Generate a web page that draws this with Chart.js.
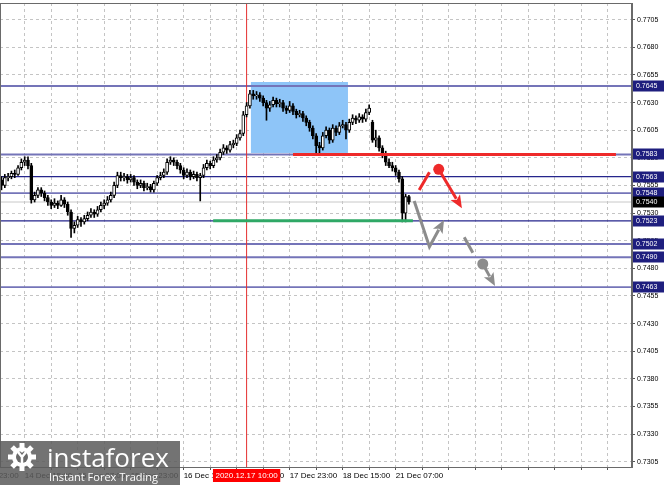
<!DOCTYPE html>
<html><head><meta charset="utf-8">
<script src="https://cdn.jsdelivr.net/npm/chart.js@4/dist/chart.umd.min.js"></script>
<style>
html,body{margin:0;padding:0;background:#fff;}
#wrap{position:relative;width:665px;height:485px;overflow:hidden;}
canvas{display:block;}
#logo{position:absolute;left:0;top:441px;width:180px;height:44px;background:rgba(92,92,92,0.86);}
#brand{position:absolute;left:47px;top:1px;font:26px 'Open Sans',sans-serif;line-height:30px;color:#fff;white-space:nowrap;}
#tag{position:absolute;left:49px;top:29px;font:11px 'Open Sans',sans-serif;line-height:13px;color:#fff;white-space:nowrap;}
#gear{position:absolute;left:5px;top:2px;}
</style></head><body>
<div id="wrap"><canvas id="c" width="665" height="485"></canvas>
<div id="logo">
<svg id="gear" width="36" height="30" viewBox="0 0 36 30">
<g fill="#fff" transform="translate(17,14)">
<circle r="10"/>
<rect x="-2.5" y="-14" width="5" height="6"/><rect x="-2.5" y="8" width="5" height="6"/>
<rect x="-14" y="-2.5" width="6" height="5"/><rect x="8" y="-2.5" width="6" height="5"/>
<rect x="-2.5" y="-14" width="5" height="6" transform="rotate(45)"/><rect x="-2.5" y="-14" width="5" height="6" transform="rotate(-45)"/>
<rect x="-2.5" y="-14" width="5" height="6" transform="rotate(135)"/><rect x="-2.5" y="-14" width="5" height="6" transform="rotate(-135)"/>
</g>
<circle cx="17" cy="14" r="6" fill="#6a6a6a"/>
<path d="M13 9 L17 14 L21 9 M17 14 L17 22" stroke="#fff" stroke-width="2.5" fill="none"/>
<circle cx="17" cy="8" r="1.6" fill="#fff"/>
</svg>
<div id="brand">instaforex</div>
<div id="tag">Instant Forex Trading</div>
</div></div>
<script>
// ---- candle data (H1 bars, index 0 = first visible bar) ----
const opens = [
0.7560,0.7555,0.7562,0.7563,0.7566,0.7565,0.7571,0.7576,0.7578,0.7573,
0.7542,0.7546,0.7551,0.7548,0.7544,0.7540,0.7537,0.7539,0.7537,0.7542,
0.7538,0.7531,0.7516,0.7519,0.7524,0.7522,0.7525,0.7528,0.7531,0.7529,
0.7533,0.7537,0.7539,0.7542,0.7546,0.7555,0.7564,0.7562,0.7563,0.7560,
0.7562,0.7558,0.7555,0.7557,0.7553,0.7554,0.7551,0.7557,0.7562,0.7564,
0.7567,0.7576,0.7578,0.7576,0.7573,0.7569,0.7564,0.7567,0.7563,0.7565,
0.7562,0.7564,0.7571,0.7575,0.7573,0.7578,0.7580,0.7585,0.7589,0.7587,
0.7592,0.7593,0.7598,0.7602,0.7619,0.7627,0.7638,0.7636,0.7637,0.7634,
0.7630,0.7625,0.7628,0.7632,0.7629,0.7630,0.7625,0.7623,0.7627,0.7622,
0.7619,0.7620,0.7616,0.7612,0.7607,0.7600,0.7591,0.7589,0.7600,0.7605,
0.7596,0.7607,0.7603,0.7609,0.7610,0.7605,0.7612,0.7616,0.7614,0.7617,
0.7615,0.7621,0.7612,0.7596,0.7598,0.7589,0.7583,0.7576,0.7573,0.7571,
0.7567,0.7561,0.7530,0.7545];
const highs = [
0.7563,0.7565,0.7566,0.7568,0.7569,0.7573,0.7579,0.7581,0.7581,0.7575,
0.7549,0.7553,0.7553,0.7550,0.7546,0.7542,0.7543,0.7541,0.7546,0.7544,
0.7540,0.7533,0.7522,0.7527,0.7526,0.7528,0.7531,0.7534,0.7533,0.7536,
0.7540,0.7542,0.7545,0.7549,0.7558,0.7567,0.7567,0.7566,0.7565,0.7565,
0.7564,0.7560,0.7560,0.7559,0.7557,0.7556,0.7559,0.7564,0.7567,0.7570,
0.7579,0.7581,0.7580,0.7578,0.7575,0.7571,0.7570,0.7569,0.7568,0.7567,
0.7566,0.7574,0.7578,0.7577,0.7581,0.7583,0.7588,0.7592,0.7591,0.7595,
0.7596,0.7601,0.7605,0.7622,0.7630,0.7641,0.7641,0.7640,0.7639,0.7636,
0.7632,0.7631,0.7635,0.7634,0.7633,0.7632,0.7627,0.7631,0.7629,0.7624,
0.7623,0.7622,0.7618,0.7614,0.7609,0.7602,0.7594,0.7603,0.7608,0.7607,
0.7610,0.7609,0.7612,0.7614,0.7612,0.7615,0.7619,0.7618,0.7620,0.7619,
0.7624,0.7628,0.7614,0.7605,0.7600,0.7591,0.7586,0.7579,0.7576,0.7573,
0.7569,0.7563,0.7547,0.7546];
const lows = [
0.7551,0.7553,0.7559,0.7561,0.7562,0.7564,0.7569,0.7573,0.7570,0.7539,
0.7540,0.7544,0.7545,0.7541,0.7537,0.7534,0.7535,0.7534,0.7536,0.7535,
0.7528,0.7508,0.7512,0.7517,0.7518,0.7520,0.7523,0.7526,0.7526,0.7527,
0.7531,0.7534,0.7537,0.7540,0.7544,0.7553,0.7559,0.7559,0.7557,0.7558,
0.7555,0.7552,0.7553,0.7550,0.7551,0.7549,0.7549,0.7555,0.7560,0.7562,
0.7565,0.7574,0.7573,0.7570,0.7566,0.7561,0.7562,0.7560,0.7561,0.7559,
0.7541,0.7562,0.7569,0.7570,0.7571,0.7576,0.7578,0.7583,0.7584,0.7585,
0.7589,0.7591,0.7596,0.7600,0.7617,0.7625,0.7633,0.7633,0.7631,0.7627,
0.7614,0.7622,0.7626,0.7626,0.7626,0.7622,0.7620,0.7621,0.7619,0.7616,
0.7617,0.7613,0.7609,0.7604,0.7597,0.7584,0.7583,0.7587,0.7598,0.7593,
0.7594,0.7600,0.7601,0.7607,0.7597,0.7603,0.7610,0.7611,0.7612,0.7612,
0.7613,0.7619,0.7594,0.7590,0.7586,0.7580,0.7573,0.7571,0.7568,0.7564,
0.7558,0.7522,0.7522,0.7538];
const closes = [
0.7555,0.7562,0.7563,0.7566,0.7565,0.7571,0.7576,0.7578,0.7573,0.7542,
0.7546,0.7551,0.7548,0.7544,0.7540,0.7537,0.7539,0.7537,0.7542,0.7538,
0.7531,0.7516,0.7519,0.7524,0.7522,0.7525,0.7528,0.7531,0.7529,0.7533,
0.7537,0.7539,0.7542,0.7546,0.7555,0.7564,0.7562,0.7563,0.7560,0.7562,
0.7558,0.7555,0.7557,0.7553,0.7554,0.7551,0.7557,0.7562,0.7564,0.7567,
0.7576,0.7578,0.7576,0.7573,0.7569,0.7564,0.7567,0.7563,0.7565,0.7562,
0.7564,0.7571,0.7575,0.7573,0.7578,0.7580,0.7585,0.7589,0.7587,0.7592,
0.7593,0.7598,0.7602,0.7619,0.7627,0.7638,0.7636,0.7637,0.7634,0.7630,
0.7625,0.7628,0.7632,0.7629,0.7630,0.7625,0.7623,0.7627,0.7622,0.7619,
0.7620,0.7616,0.7612,0.7607,0.7600,0.7591,0.7589,0.7600,0.7605,0.7596,
0.7607,0.7603,0.7609,0.7610,0.7605,0.7612,0.7616,0.7614,0.7617,0.7615,
0.7621,0.7625,0.7596,0.7598,0.7589,0.7583,0.7576,0.7573,0.7571,0.7567,
0.7561,0.7530,0.7545,0.7540];

// ---- levels & axes ----
const levelValues = [0.7645, 0.7583, 0.7563, 0.7548, 0.7523, 0.7502, 0.7490, 0.7463];
const levelDark   = [false, false, true, false, true, false, false, false];
const currentPrice = 0.7540;
const yTicks = [0.7305,0.7330,0.7355,0.7380,0.7405,0.7430,0.7455,0.7480,0.7505,0.7530,0.7555,0.7580,0.7605,0.7630,0.7655,0.7680,0.7705];
const xGridIdx = [-9, -1, 7, 15, 23, 31, 39, 47, 55, 63, 71, 79, 87, 95, 103, 111, 119, 127, 135, 143, 151, 159, 167, 175, 183];
const xTickIdx = [-9, 7, 23, 39, 55, 71, 87, 103, 119];
const xTickLabels = ["11 Dec 23:00","14 Dec 15:00","15 Dec 07:00","15 Dec 23:00","16 Dec 15:00","17 Dec 07:00","17 Dec 23:00","18 Dec 15:00","21 Dec 07:00"];
const markerBar = 74;
const markerLabel = "2020.12.17 10:00";
const xRange = [-0.45, 190.35];
const yRange = [0.73002, 0.77201];
// annotations in data coordinates [barIndex, price]
const zoneX = [75.3, 104.6];
const zoneY = [0.76486, 0.75844];
const resistX = [88.0, 185.5];
const resistY = 0.7583;
const supportX = [63.9, 124.2];
const supportY = 0.7523;
const redSlash = [[126.1, 0.75509], [129.2, 0.75669]];
const redArrow = [[132.0, 0.75696], [139.0, 0.75343]];
const grayArrow1 = [[124.6, 0.75409], [129.2, 0.74996], [133.6, 0.75237]];
const grayDash = [[139.7, 0.75081], [142.3, 0.74941]];
const grayArrow2 = [[145.3, 0.74839], [149.0, 0.74640]];

const wickData = opens.map((o, i) => ({x: i, y: [lows[i], highs[i]]}));
const bodyData = opens.map((o, i) => ({x: i, y: [o, closes[i]]}));
const bodyFill = opens.map((o, i) => closes[i] >= o ? '#ffffff' : '#000000');

const lineDs = (pts, color, width, order) => ({type: 'line', data: pts, borderColor: color, borderWidth: width, pointRadius: 0, fill: false, order: order, tension: 0});

const datasets = [
  {type: 'bar', data: wickData, backgroundColor: '#000', barThickness: 1, grouped: false, order: 3, borderWidth: 0},
  {type: 'bar', data: bodyData, backgroundColor: bodyFill, borderColor: '#000', borderWidth: 1, borderSkipped: false, barThickness: 3, grouped: false, order: 2, minBarLength: 1},
  lineDs([{x: xRange[0], y: currentPrice}, {x: xRange[1], y: currentPrice}], '#c8c8c8', 1, 9),
];
levelValues.forEach((v, k) => {
  datasets.push(lineDs([{x: xRange[0], y: v}, {x: xRange[1], y: v}], levelDark[k] ? '#25258c' : '#7474b8', levelDark[k] ? 1.3 : 1.8, 8));
});
datasets.push(lineDs([{x: markerBar, y: yRange[0]}, {x: markerBar, y: yRange[1]}], '#e53030', 1, 7));
datasets.push(lineDs([{x: resistX[0], y: resistY}, {x: resistX[1], y: resistY}], '#ee2a2a', 3, 1));
datasets.push(lineDs([{x: supportX[0], y: supportY}, {x: supportX[1], y: supportY}], '#2fa866', 3, 1));

function poly(ctx, pts, color, w, dash) {
  ctx.save(); ctx.strokeStyle = color; ctx.lineWidth = w; ctx.lineCap = 'butt'; ctx.lineJoin = 'miter';
  ctx.setLineDash(dash || []);
  ctx.beginPath(); pts.forEach((p, k) => k ? ctx.lineTo(p[0], p[1]) : ctx.moveTo(p[0], p[1])); ctx.stroke(); ctx.restore();
}
function arrowLine(ctx, pts, color, w) {
  const n = pts.length; const a = pts[n - 2], b = pts[n - 1];
  const dx = b[0] - a[0], dy = b[1] - a[1], L = Math.hypot(dx, dy), ux = dx / L, uy = dy / L;
  const len = 13, hw = 5.5;
  const base = [b[0] - ux * len, b[1] - uy * len];
  const p = pts.slice(0, n - 1).concat([[b[0] - ux * (len - 2), b[1] - uy * (len - 2)]]);
  poly(ctx, p, color, w);
  ctx.save(); ctx.fillStyle = color; ctx.beginPath();
  ctx.moveTo(b[0], b[1]);
  ctx.lineTo(base[0] - uy * hw, base[1] + ux * hw);
  ctx.lineTo(base[0] + ux * 3, base[1] + uy * 3);
  ctx.lineTo(base[0] + uy * hw, base[1] - ux * hw);
  ctx.closePath(); ctx.fill(); ctx.restore();
}
function dot(ctx, p, r, color) { ctx.save(); ctx.fillStyle = color; ctx.beginPath(); ctx.arc(p[0], p[1], r, 0, Math.PI * 2); ctx.fill(); ctx.restore(); }

const decor = {
  id: 'decor',
  beforeDatasetsDraw(chart) {
    const {ctx, scales: {x, y}} = chart;
    const x0 = x.getPixelForValue(zoneX[0]), x1 = x.getPixelForValue(zoneX[1]);
    const y0 = y.getPixelForValue(zoneY[0]), y1 = y.getPixelForValue(zoneY[1]);
    ctx.save(); ctx.fillStyle = 'rgb(142,197,248)'; ctx.fillRect(x0, y0, x1 - x0, y1 - y0); ctx.restore();
  },
  afterDatasetsDraw(chart) {
    const {ctx, scales: {x, y}} = chart;
    const P = a => a.map(p => [x.getPixelForValue(p[0]), y.getPixelForValue(p[1])]);
    const red = '#ee2a2a', gray = '#8c8c8c';
    poly(ctx, P(redSlash), red, 3);
    const ra = P(redArrow);
    arrowLine(ctx, ra, red, 3);
    dot(ctx, ra[0], 5.5, red);
    arrowLine(ctx, P(grayArrow1), gray, 3);
    poly(ctx, P(grayDash), gray, 3);
    const ga = P(grayArrow2);
    arrowLine(ctx, ga, gray, 3);
    dot(ctx, ga[0], 5.5, gray);
  },
  afterDraw(chart) {
    const {ctx, chartArea: ca, scales: {x, y}} = chart;
    ctx.save();
    ctx.strokeStyle = '#6a6a6a'; ctx.lineWidth = 1;
    ctx.strokeRect(ca.left + 0.5, ca.top + 0.5, ca.right - ca.left - 1, ca.bottom - ca.top);
    ctx.font = '7px "Liberation Sans", Arial, sans-serif';
    ctx.textBaseline = 'middle';
    const box = (v, bg) => {
      const py = Math.round(y.getPixelForValue(v));
      ctx.fillStyle = bg; ctx.fillRect(ca.right + 1, py - 5.5, 31, 11);
      ctx.fillStyle = '#fff'; ctx.fillText(v.toFixed(4), ca.right + 4, py + 0.5);
    };
    levelValues.forEach(v => box(v, '#1e1e7e'));
    box(currentPrice, '#000');
    const mx = x.getPixelForValue(markerBar);
    ctx.font = '8px "Liberation Sans", Arial, sans-serif';
    const tw = ctx.measureText(markerLabel).width + 5;
    ctx.fillStyle = '#ff0000'; ctx.fillRect(mx - tw / 2, ca.bottom + 2, tw, 13);
    ctx.fillStyle = '#fff'; ctx.textAlign = 'center'; ctx.fillText(markerLabel, mx, ca.bottom + 8.5);
    ctx.restore();
  }
};

new Chart(document.getElementById('c'), {
  type: 'bar',
  data: {datasets},
  plugins: [decor],
  options: {
    responsive: false, animation: false, devicePixelRatio: 1,
    layout: {padding: {top: 3, left: 0, right: 0, bottom: 0}},
    plugins: {legend: {display: false}, tooltip: {enabled: false}},
    scales: {
      x: {
        type: 'linear', min: xRange[0], max: xRange[1], offset: false,
        afterBuildTicks: s => { s.ticks = xGridIdx.map(v => ({value: v})); },
        afterFit: s => { s.height = 18; s.paddingLeft = 0; s.paddingRight = 0; },
        grid: {color: '#c4c4c4', offset: false, drawTicks: true, tickLength: 3, tickColor: '#555', tickBorderDash: []},
        border: {display: true, color: '#6a6a6a', dash: [3, 3]},
        ticks: {autoSkip: false, maxRotation: 0, align: 'start', padding: 1, color: '#000',
          font: {family: '"Liberation Sans", Arial, sans-serif', size: 8},
          callback: (v) => { const k = xTickIdx.indexOf(v); return k >= 0 ? xTickLabels[k] : ''; }}
      },
      y: {
        type: 'linear', position: 'right', min: yRange[0], max: yRange[1], beginAtZero: false,
        afterBuildTicks: s => { s.ticks = yTicks.map(v => ({value: v})); },
        afterFit: s => { s.width = 33; s.paddingTop = 0; s.paddingBottom = 0; },
        grid: {color: '#c4c4c4', drawTicks: true, tickLength: 3, tickColor: '#555', tickBorderDash: []},
        border: {display: true, color: '#6a6a6a', dash: [3, 3]},
        ticks: {padding: 2, color: '#000', font: {family: '"Liberation Sans", Arial, sans-serif', size: 7},
          callback: v => Number(v).toFixed(4)}
      }
    }
  }
});
</script>
</body></html>
